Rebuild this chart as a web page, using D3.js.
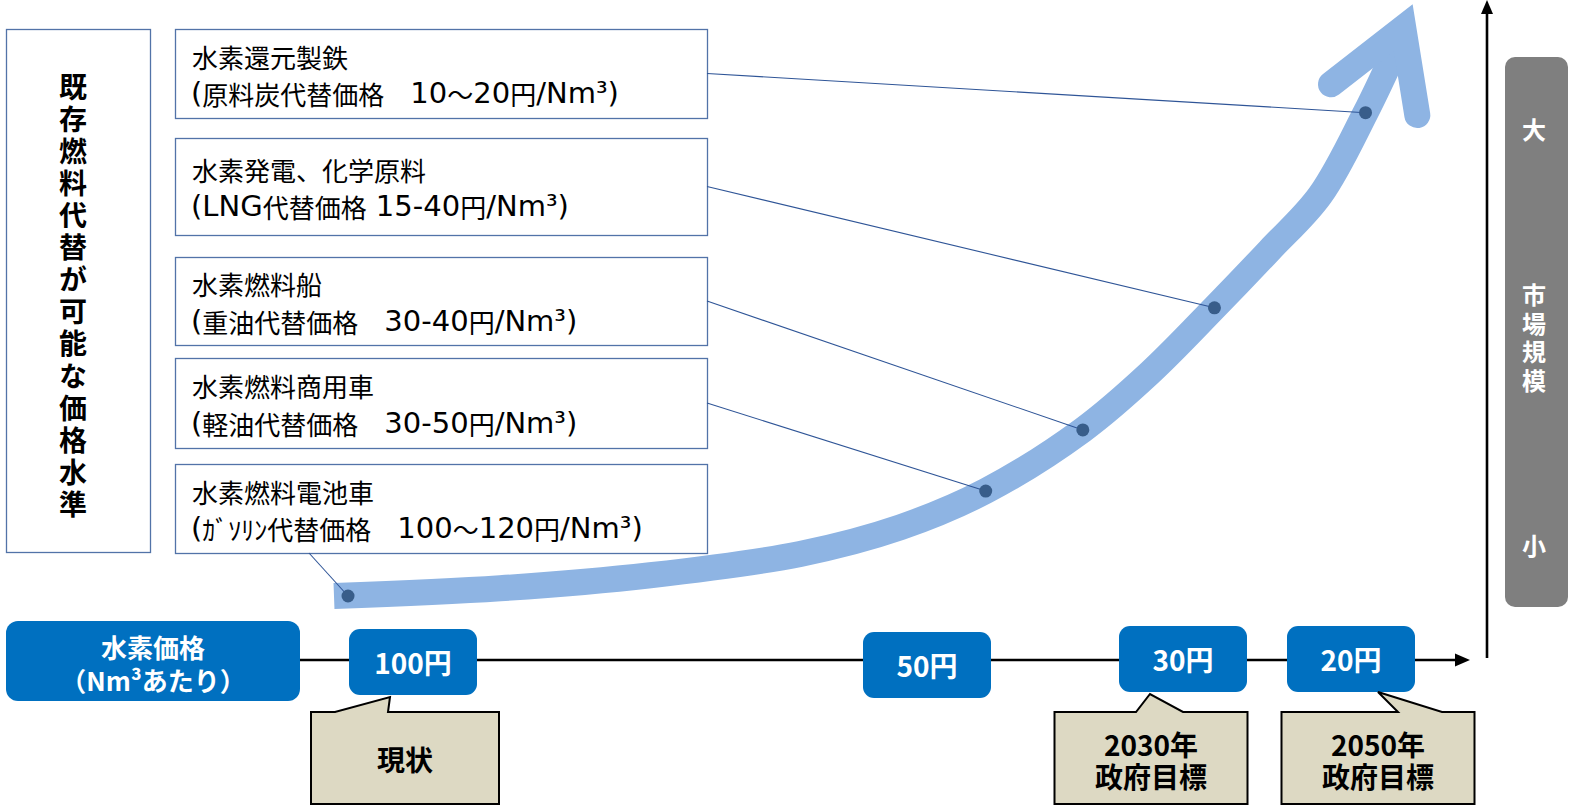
<!DOCTYPE html>
<html><head><meta charset="utf-8">
<script src="https://cdn.jsdelivr.net/npm/d3@7"></script>
<style>
body{margin:0;background:#fff}
svg{display:block}
text{font-family:"Noto Sans CJK JP","Noto Sans",sans-serif}
tspan.lat{font-family:"DejaVu Sans","Noto Sans CJK JP",sans-serif}
text.vert{writing-mode:vertical-rl;text-orientation:upright}
</style>
</head><body>
<svg id="c" width="1571" height="807"></svg>
<script>
// ---------------- data ----------------
const sideTitle = "既存燃料代替が可能な価格水準";
const useCases = ["水素還元製鉄", "水素発電、化学原料", "水素燃料船", "水素燃料商用車", "水素燃料電池車"];
const substitutePrices = [
  "(原料炭代替価格　10～20円/Nm³)",
  "(LNG代替価格 15-40円/Nm³)",
  "(重油代替価格　30-40円/Nm³)",
  "(軽油代替価格　30-50円/Nm³)",
  "(ｶﾞｿﾘﾝ代替価格　100～120円/Nm³)"
];
// growth curve: progress (0-100) vs market size (0-100)
const curveProgress = [0, 15.4, 29.3, 43.2, 52.5, 60.4, 69.4, 75.6, 81.6, 86.7, 91.4, 95.6, 98.6];
const curveMarket   = [0, 1.3, 3.5, 7.1, 11.6, 17.7, 28.0, 37.6, 48.6, 58.3, 67.6, 81.5, 93.0];
// arrow head of the growth curve
const arrowProgress = [92.4, 99.1, 100.4];
const arrowMarket   = [86.3, 95.8, 81.1];
// where each use case sits on the curve
const useCaseProgress = [95.6, 81.6, 69.4, 60.4, 1.3];
const useCaseMarket   = [81.5, 48.6, 28.0, 17.7, 0];
// hydrogen price axis
const axisTitle = ["水素価格", "（Nm³あたり）"];
const priceTicks  = [100, 50, 30, 20];
const priceLabels = ["100円", "50円", "30円", "20円"];
const milestonePrices = [100, 30, 20];
const milestoneLabels = [["現状"], ["2030年", "政府目標"], ["2050年", "政府目標"]];
// market size bar
const marketBig = "大", marketTitle = "市場規模", marketSmall = "小";

// ---------------- layout ----------------
const svg = d3.select("#c");
const W = 1571, H = 807;
const x = d3.scaleLinear().domain([0, 100]).range([334, 1413]);
const y = d3.scaleLinear().domain([0, 100]).range([596, 3]);
const px = d3.scaleLinear().domain(priceTicks).range([413, 927, 1183, 1351]);
const tickYOffset = [2, 5, -1, -1];

const boxLeft = 175, boxRight = 707;
const boxTop = [29, 138, 257, 358, 464];
const boxBottom = [118, 235, 345, 448, 553];
const boxStroke = "#5273a8";

svg.append("rect").attr("width", W).attr("height", H).attr("fill", "#fff");

// side title box (vertical text)
svg.append("rect").attr("x", 6.5).attr("y", 29.5).attr("width", 144).attr("height", 523)
  .attr("fill", "#fff").attr("stroke", boxStroke).attr("stroke-width", 1.3);
svg.append("text").attr("class", "vert")
  .attr("x", 73).attr("y", 73)
  .attr("font-size", 28).attr("font-weight", 700).attr("fill", "#000")
  .style("letter-spacing", "4.1px")
  .text(sideTitle);

// growth curve
const line = d3.line().x(d => x(d[0])).y(d => y(d[1])).curve(d3.curveCatmullRom.alpha(0.5));
const curvePts = curveProgress.map((p, i) => [p, curveMarket[i]]);
svg.append("path").attr("d", line(curvePts)).attr("fill", "none")
  .attr("stroke", "#8EB4E3").attr("stroke-width", 26).attr("stroke-linecap", "butt");
const arrowPts = arrowProgress.map((p, i) => [p, arrowMarket[i]]);
svg.append("path").attr("d", d3.line().x(d => x(d[0])).y(d => y(d[1]))(arrowPts))
  .attr("fill", "none").attr("stroke", "#8EB4E3").attr("stroke-width", 26)
  .attr("stroke-linecap", "round").attr("stroke-linejoin", "miter");

// split a string into CJK / latin runs
const isCJK = ch => /[\u3000-\u30ff\u4e00-\u9fff\uff00-\uffef]/.test(ch);
function runs(s) {
  const out = [];
  for (const ch of s) {
    const c = isCJK(ch);
    if (out.length && out[out.length - 1].cjk === c) out[out.length - 1].t += ch;
    else out.push({ cjk: c, t: ch });
  }
  return out;
}

// use case boxes
const g = svg.append("g");
useCases.forEach((name, i) => {
  const t = boxTop[i], b = boxBottom[i], mid = (t + b) / 2;
  g.append("rect").attr("x", boxLeft + 0.5).attr("y", t + 0.5)
    .attr("width", boxRight - boxLeft).attr("height", b - t)
    .attr("fill", "#fff").attr("stroke", boxStroke).attr("stroke-width", 1.3);
  g.append("text").attr("x", 192).attr("y", mid - 17.5).attr("dominant-baseline", "central")
    .attr("font-size", 26).attr("fill", "#000").text(name);
  const tx = g.append("text").attr("x", 191).attr("y", mid + 19.5).attr("dominant-baseline", "central")
    .attr("fill", "#000").attr("xml:space", "preserve").style("white-space", "pre");
  tx.selectAll("tspan").data(runs(substitutePrices[i])).join("tspan")
    .attr("class", d => d.cjk ? null : "lat")
    .attr("font-size", d => d.cjk ? 26 : 29)
    .text(d => d.t);
});

// connectors + dots
useCases.forEach((name, i) => {
  const t = boxTop[i], b = boxBottom[i];
  const sx = i < 4 ? boxRight : boxLeft + 134;
  const sy = i < 4 ? (t + b) / 2 : b;
  svg.append("line").attr("x1", sx).attr("y1", sy)
    .attr("x2", x(useCaseProgress[i])).attr("y2", y(useCaseMarket[i]))
    .attr("stroke", "#2F5597").attr("stroke-width", 1.1);
});
svg.append("g").selectAll("circle").data(useCaseProgress).join("circle")
  .attr("cx", d => x(d)).attr("cy", (d, i) => y(useCaseMarket[i]))
  .attr("r", 6.5).attr("fill", "#385D8A");

// horizontal price axis
const axisY = 660;
svg.append("line").attr("x1", 300).attr("x2", 1458).attr("y1", axisY).attr("y2", axisY)
  .attr("stroke", "#000").attr("stroke-width", 2.6);
svg.append("path").attr("d", `M1455,${axisY - 6.5}L1470,${axisY}L1455,${axisY + 6.5}Z`).attr("fill", "#000");

// vertical market axis
svg.append("line").attr("x1", 1487).attr("x2", 1487).attr("y1", 658).attr("y2", 12)
  .attr("stroke", "#000").attr("stroke-width", 2.6);
svg.append("path").attr("d", "M1481,14L1487,0L1493,14Z").attr("fill", "#000");

// axis title box
svg.append("rect").attr("x", 6).attr("y", 621).attr("width", 294).attr("height", 80)
  .attr("rx", 12).attr("fill", "#0070C0");
const at = svg.append("text").attr("text-anchor", "middle").attr("dominant-baseline", "central")
  .attr("font-size", 26).attr("font-weight", 700).attr("fill", "#fff");
at.selectAll("tspan").data(axisTitle).join("tspan")
  .attr("x", 153).attr("y", (d, i) => 646 + i * 33).text(d => d);

// price tick boxes
const tg = svg.append("g").selectAll("g").data(priceTicks).join("g")
  .attr("transform", (d, i) => `translate(${px(d)},${axisY + tickYOffset[i]})`);
tg.append("rect").attr("x", -64).attr("y", -33).attr("width", 128).attr("height", 66)
  .attr("rx", 11).attr("fill", "#0070C0");
tg.append("text").attr("text-anchor", "middle").attr("dominant-baseline", "central")
  .attr("font-size", 28).attr("font-weight", 700).attr("fill", "#fff")
  .text((d, i) => priceLabels[i]);

// milestone callouts
const callDx = [-8, -32, 27];       // box centre offset from tick
const tipDx = [-23, -33, 27];       // pointer tip offset from tick
const baseL = [-70, -15, 20];       // pointer base offsets from box centre
const baseR = [-17, 32, 64];
const tipY = [697, 694, 692];
milestonePrices.forEach((p, i) => {
  const cx = px(p) + callDx[i];
  const w = i === 0 ? 188 : 193;
  const l = cx - w / 2, r = cx + w / 2, t = 712, b = 804;
  const path = `M${l},${t}L${cx + baseL[i]},${t}L${px(p) + tipDx[i]},${tipY[i]}L${cx + baseR[i]},${t}L${r},${t}L${r},${b}L${l},${b}Z`;
  svg.append("path").attr("d", path).attr("fill", "#DDD9C3").attr("stroke", "#000").attr("stroke-width", 2);
  const lines = milestoneLabels[i];
  const cy0 = lines.length === 1 ? 759 : 744;
  const mt = svg.append("text").attr("text-anchor", "middle").attr("dominant-baseline", "central")
    .attr("font-size", 28).attr("font-weight", 700).attr("fill", "#000");
  mt.selectAll("tspan").data(lines).join("tspan")
    .attr("x", cx).attr("y", (d, k) => cy0 + k * 32).text(d => d);
});

// market size bar
svg.append("rect").attr("x", 1505).attr("y", 57).attr("width", 63).attr("height", 550)
  .attr("rx", 10).attr("fill", "#7F7F7F");
const mtext = (s, yy, ls) => svg.append("text").attr("class", "vert")
  .attr("x", 1534).attr("y", yy)
  .attr("font-size", 24).attr("font-weight", 700).attr("fill", "#fff")
  .style("letter-spacing", ls + "px").text(s);
mtext(marketBig, 118, 0);
mtext(marketTitle, 283, 4.5);
mtext(marketSmall, 534, 0);
</script>
</body></html>
